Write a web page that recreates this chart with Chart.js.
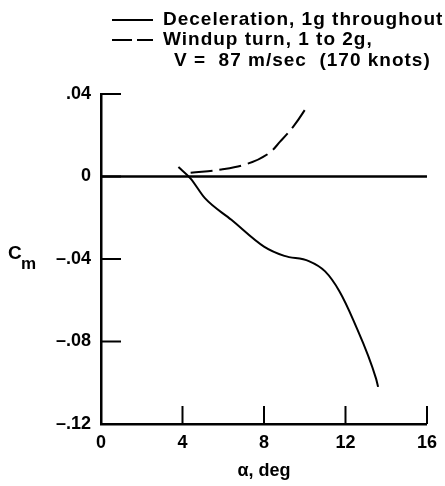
<!DOCTYPE html>
<html>
<head>
<meta charset="utf-8">
<script src="https://cdn.jsdelivr.net/npm/chart.js@4"></script>
<style>
  html, body { margin: 0; padding: 0; background: #fff; }
  #wrap { width: 445px; height: 486px; }
</style>
</head>
<body>
<div id="wrap"><canvas id="cmChart"></canvas></div>
<script>
// angle of attack, deg / pitching moment coefficient
var decelAlpha = [3.8, 4.4, 5.1, 6.4, 8.0, 9.0, 10.2, 11.0, 11.7, 12.4, 13.5, 13.6];
var decelCm = [0.0046, -0.001, -0.0105, -0.021, -0.034, -0.0385, -0.041, -0.046, -0.0556, -0.070, -0.098, -0.102];
var windupAlpha = [4.4, 5.9, 7.2, 8.2, 8.8, 9.5, 10.1];
var windupCm = [0.0018, 0.0034, 0.0062, 0.011, 0.017, 0.025, 0.0337];
var zeroAlpha = [0, 16];
var zeroCm = [0, 0];
var xTicks = [0, 4, 8, 12, 16];
var yTicks = [0.04, 0, -0.04, -0.08, -0.12];
var yTickLabels = ['.04', '0', '\u2013.04', '\u2013.08', '\u2013.12'];

function pts(xs, ys) {
  return xs.map(function (x, i) { return { x: x, y: ys[i] }; });
}

var FONT = '"Liberation Sans", Arial, sans-serif';

// legend, C_m label and inward ticks
var extras = {
  id: 'extras',
  afterDraw: function (chart) {
    var ctx = chart.ctx;
    var xs = chart.scales.x, ys = chart.scales.y;
    ctx.save();
    ctx.strokeStyle = '#000';
    ctx.lineWidth = 2;
    xTicks.slice(1).forEach(function (v) {
      var px = xs.getPixelForValue(v);
      ctx.beginPath();
      ctx.moveTo(px, ys.bottom);
      ctx.lineTo(px, ys.bottom - 18);
      ctx.stroke();
    });
    yTicks.slice(0, 4).forEach(function (v) {
      var py = ys.getPixelForValue(v);
      ctx.beginPath();
      ctx.moveTo(xs.left, py);
      ctx.lineTo(xs.left + 20, py);
      ctx.stroke();
    });

    // legend
    ctx.lineWidth = 2;
    ctx.beginPath();
    ctx.moveTo(112, 20); ctx.lineTo(153, 20);
    ctx.stroke();
    ctx.setLineDash([20, 5]);
    ctx.beginPath();
    ctx.moveTo(112, 40); ctx.lineTo(153, 40);
    ctx.stroke();
    ctx.setLineDash([]);
    ctx.fillStyle = '#000';
    ctx.font = 'bold 19px ' + FONT;
    ctx.letterSpacing = '1px';
    ctx.textBaseline = 'middle';
    ctx.textAlign = 'left';
    ctx.fillText('Deceleration, 1g throughout', 163, 20);
    ctx.fillText('Windup turn, 1 to 2g,', 163, 40);
    ctx.fillText('V =  87 m/sec  (170 knots)', 174, 61);
    ctx.letterSpacing = '0px';

    // C_m
    ctx.font = 'bold 19px ' + FONT;
    ctx.fillText('C', 8, 254);
    ctx.font = 'bold 17px ' + FONT;
    ctx.fillText('m', 21, 264);
    ctx.restore();
  }
};

new Chart(document.getElementById('cmChart'), {
  type: 'line',
  data: {
    datasets: [{
      label: 'zero',
      data: pts(zeroAlpha, zeroCm),
      borderColor: '#000',
      borderWidth: 2.5,
      pointRadius: 0
    }, {
      label: 'Deceleration, 1g throughout',
      data: pts(decelAlpha, decelCm),
      borderColor: '#000',
      borderWidth: 2,
      pointRadius: 0,
      cubicInterpolationMode: 'monotone'
    }, {
      label: 'Windup turn, 1 to 2g',
      data: pts(windupAlpha, windupCm),
      borderColor: '#000',
      borderWidth: 2,
      borderDash: [22, 7],
      pointRadius: 0,
      tension: 0.4
    }]
  },
  options: {
    responsive: true,
    maintainAspectRatio: false,
    animation: false,
    layout: { padding: { top: 94, right: 13, left: 0, bottom: 0 } },
    plugins: { legend: { display: false }, tooltip: { enabled: false } },
    scales: {
      x: {
        type: 'linear',
        min: 0, max: 16,
        afterBuildTicks: function (s) { s.ticks = xTicks.map(function (v) { return { value: v }; }); },
        afterFit: function (s) { s.height = 62; },
        grid: { display: false, drawTicks: false },
        border: { color: '#000', width: 2.5 },
        ticks: { color: '#000', padding: 8, font: { family: FONT, size: 18, weight: 'bold' } },
        title: { display: true, text: '\u03b1, deg', color: '#000', padding: { top: 8 }, font: { family: FONT, size: 18, weight: 'bold' } }
      },
      y: {
        type: 'linear',
        min: -0.12, max: 0.04,
        afterBuildTicks: function (s) { s.ticks = yTicks.map(function (v) { return { value: v }; }); },
        afterFit: function (s) { s.width = 101; },
        grid: { display: false, drawTicks: false },
        border: { color: '#000', width: 2.5 },
        ticks: {
          color: '#000', padding: 10,
          font: { family: FONT, size: 18, weight: 'bold' },
          callback: function (v) { return yTickLabels[yTicks.indexOf(Math.round(v * 100) / 100)]; }
        }
      }
    }
  },
  plugins: [extras]
});
</script>
</body>
</html>
